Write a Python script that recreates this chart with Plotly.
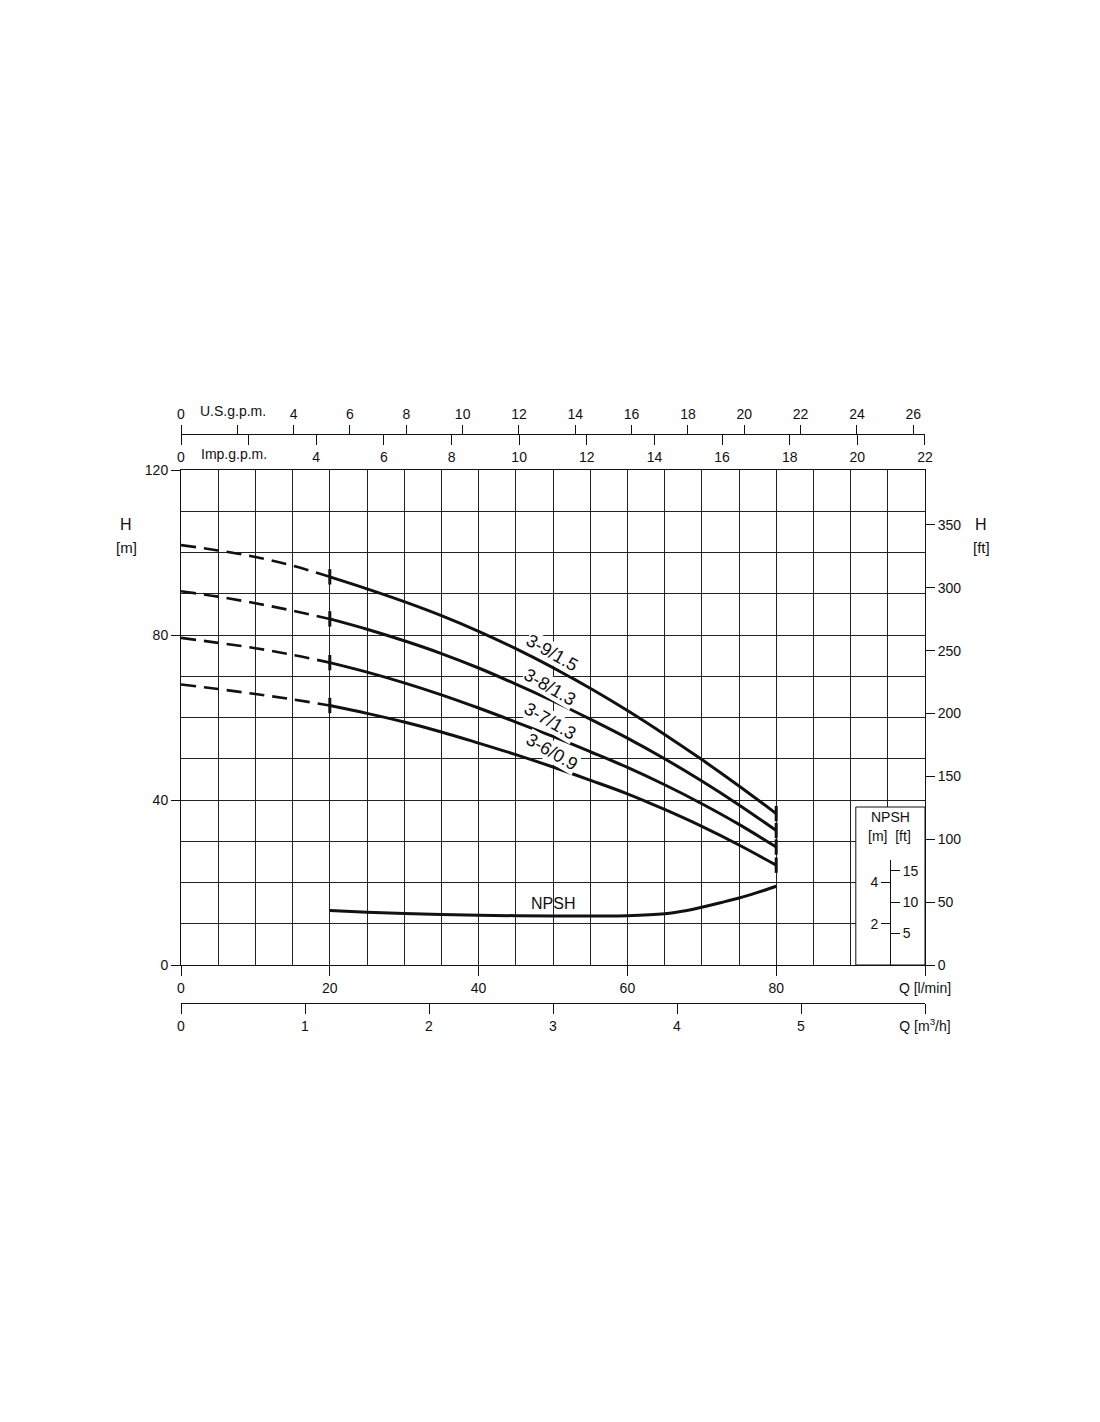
import plotly.graph_objects as go

# ---------------- data ----------------
q_dash = [0, 5, 10, 15, 20]
q_solid = [20, 25, 30, 35, 40, 45, 50, 55, 60, 65, 70, 75, 80]

curve_names = ["3-9/1.5", "3-8/1.3", "3-7/1.3", "3-6/0.9"]
h_dash = {
    "3-9/1.5": [101.8, 100.5, 98.9, 96.8, 94.1],
    "3-8/1.3": [90.6, 89.3, 87.7, 85.9, 83.9],
    "3-7/1.3": [79.3, 78.1, 76.8, 75.2, 73.3],
    "3-6/0.9": [68.0, 66.9, 65.7, 64.4, 62.9],
}
h_solid = {
    "3-9/1.5": [94.1, 91.2, 88.1, 84.7, 80.9, 76.7, 72.1, 67.1, 61.7, 55.9, 49.8, 43.4, 36.7],
    "3-8/1.3": [83.9, 81.4, 78.6, 75.5, 72.0, 68.1, 64.0, 59.6, 55.0, 50.0, 44.6, 38.8, 32.6],
    "3-7/1.3": [73.3, 71.0, 68.4, 65.5, 62.3, 58.9, 55.4, 51.7, 47.9, 43.7, 39.1, 34.1, 28.6],
    "3-6/0.9": [62.9, 61.0, 58.9, 56.5, 53.8, 51.0, 48.0, 44.8, 41.5, 37.7, 33.6, 29.1, 24.2],
}
label_pos = {  # (Q, H) of each curve label
    "3-9/1.5": (49.9, 75.6),
    "3-8/1.3": (49.6, 67.5),
    "3-7/1.3": (49.6, 59.1),
    "3-6/0.9": (49.9, 51.7),
}

q_npsh = [20, 25, 30, 35, 40, 45, 50, 55, 60, 65, 68, 70, 72.5, 75, 77.5, 80]
npsh_m = [2.64, 2.56, 2.50, 2.45, 2.41, 2.39, 2.38, 2.38, 2.39, 2.48, 2.64, 2.80, 3.02, 3.25, 3.52, 3.82]

q_ticks = [0, 20, 40, 60, 80, 100]
q_ticktext = ["0", "20", "40", "60", "80", "Q [l/min]"]
h_ticks = [0, 40, 80, 120]
hft_ticks = [0, 50, 100, 150, 200, 250, 300, 350]
usgpm_ticks = [0] + list(range(4, 27, 2))
impgpm_ticks = [0] + list(range(4, 23, 2))
gpm_unlabeled_tick = [2]
m3h_ticks = [0, 1, 2, 3, 4, 5, 6]
m3h_ticktext = ["0", "1", "2", "3", "4", "5", "Q [m<sup>3</sup>/h]"]
npsh_m_ticks = [2, 4]
npsh_ft_ticks = [5, 10, 15]

# conversions
LPM_PER_USGPM = 3.78541
LPM_PER_IMPGPM = 4.54609
LPM_PER_M3H = 1000 / 60
FT_PER_M = 3.28084

Q_MAX = 100
H_MAX = 120

FONT = "Liberation Sans, Arial, sans-serif"
BLACK = "#111111"
GRID = "#222222"

# ---------------- layout geometry (screen pixels, page has 8px body margin) ----------------
W, H = 1100, 1422
OFF = 8
PL, PR = 181, 925          # plot x extent on screen
TOP_AX, PT, PB, BOT_AX = 434, 470, 965, 1003
paper_h = BOT_AX - TOP_AX
y_dom = [(BOT_AX - PB) / paper_h, (BOT_AX - PT) / paper_h]
npsh_top_px = 860
npsh_dom = [y_dom[0], (BOT_AX - npsh_top_px) / paper_h]
px_per_m = (PB - PT) / H_MAX
npsh_scale = 5.0          # 1 m NPSH = 5 m on the main H scale
npsh_m_max = (PB - npsh_top_px) / (px_per_m * npsh_scale)
npsh_x_pos = (890 - PL) / (PR - PL)
box_q0 = 90.7


def xp(px):
    return (px - PL) / (PR - PL)


fig = go.Figure()

for name in curve_names:
    fig.add_trace(go.Scatter(x=q_dash, y=h_dash[name], mode="lines",
                             line=dict(color=BLACK, width=2.6, dash="15px,8px", shape="spline"),
                             showlegend=False, hoverinfo="skip"))
    fig.add_trace(go.Scatter(x=q_solid, y=h_solid[name], mode="lines",
                             line=dict(color=BLACK, width=3, shape="spline"),
                             showlegend=False, name=name))
    fig.add_trace(go.Scatter(x=[q_solid[0], q_solid[-1]],
                             y=[h_solid[name][0], h_solid[name][-1]],
                             mode="markers",
                             marker=dict(symbol="line-ns-open", size=11, color=BLACK,
                                         line=dict(color=BLACK, width=3)),
                             showlegend=False, hoverinfo="skip"))

fig.add_trace(go.Scatter(x=q_npsh, y=npsh_m, mode="lines", yaxis="y5",
                         line=dict(color=BLACK, width=3, shape="spline"),
                         showlegend=False, name="NPSH"))

# invisible copies so that the unit-converted axes are drawn
ref = curve_names[0]
ghost = dict(mode="lines", line=dict(width=0, color="rgba(0,0,0,0)"),
             showlegend=False, hoverinfo="skip")
fig.add_trace(go.Scatter(x=q_solid, y=[h * FT_PER_M for h in h_solid[ref]], yaxis="y2", **ghost))
fig.add_trace(go.Scatter(x=[q / LPM_PER_USGPM for q in q_solid], y=h_solid[ref], xaxis="x2", **ghost))
fig.add_trace(go.Scatter(x=[q / LPM_PER_IMPGPM for q in q_solid], y=h_solid[ref], xaxis="x3", **ghost))
fig.add_trace(go.Scatter(x=[q / LPM_PER_M3H for q in q_solid], y=h_solid[ref], xaxis="x4", **ghost))
fig.add_trace(go.Scatter(x=q_npsh, y=npsh_m, xaxis="x5", yaxis="y3", **ghost))
fig.add_trace(go.Scatter(x=q_npsh, y=[v * FT_PER_M for v in npsh_m], xaxis="x5", yaxis="y4", **ghost))

axis_common = dict(showline=True, linecolor=BLACK, linewidth=1,
                   tickcolor=BLACK, tickwidth=1, zeroline=False,
                   tickfont=dict(family=FONT, size=14, color=BLACK))

fig.update_layout(
    width=W, height=H,
    margin=dict(l=PL - OFF, r=W - (PR - OFF), t=TOP_AX - OFF, b=H - (BOT_AX - OFF), pad=0,
                autoexpand=False),
    paper_bgcolor="white", plot_bgcolor="rgba(0,0,0,0)",
    font=dict(family=FONT, size=14, color=BLACK),
    xaxis=dict(range=[0, Q_MAX], domain=[0, 1], anchor="y",
               tickvals=q_ticks, ticktext=q_ticktext,
               ticks="outside", ticklen=10, mirror=True,
               showgrid=True, gridcolor=GRID, gridwidth=1,
               minor=dict(dtick=5, showgrid=True, gridcolor=GRID, gridwidth=1, ticks=""),
               **axis_common),
    yaxis=dict(range=[0, H_MAX], domain=y_dom, anchor="x",
               tickvals=h_ticks, ticks="outside", ticklen=9, mirror=True,
               showgrid=True, gridcolor=GRID, gridwidth=1,
               minor=dict(dtick=10, showgrid=True, gridcolor=GRID, gridwidth=1, ticks=""),
               **axis_common),
    yaxis2=dict(overlaying="y", side="right", anchor="x",
                range=[0, H_MAX * FT_PER_M], tickvals=hft_ticks,
                ticks="outside", ticklen=9, showgrid=False, **axis_common),
    xaxis2=dict(overlaying="x", anchor="free", position=1, side="top",
                range=[0, Q_MAX / LPM_PER_USGPM], tickvals=usgpm_ticks,
                ticks="outside", ticklen=9, showgrid=False,
                minor=dict(tickvals=gpm_unlabeled_tick, ticks="outside", ticklen=9,
                           tickcolor=BLACK, tickwidth=1, showgrid=False),
                **axis_common),
    xaxis3=dict(overlaying="x", anchor="free", position=1, side="bottom",
                range=[0, Q_MAX / LPM_PER_IMPGPM + 0.005], tickvals=impgpm_ticks,
                ticks="outside", ticklen=10, showgrid=False,
                minor=dict(tickvals=gpm_unlabeled_tick, ticks="outside", ticklen=10,
                           tickcolor=BLACK, tickwidth=1, showgrid=False),
                **axis_common),
    xaxis4=dict(overlaying="x", anchor="free", position=0, side="bottom",
                range=[0, Q_MAX / LPM_PER_M3H], tickvals=m3h_ticks,
                ticktext=m3h_ticktext,
                ticks="outside", ticklen=10, showgrid=False, **axis_common),
    xaxis5=dict(domain=[xp(856), 1], anchor="y3", range=[box_q0, Q_MAX],
                visible=False, showgrid=False),
    yaxis3=dict(anchor="free", position=npsh_x_pos, domain=npsh_dom, side="left",
                range=[0, npsh_m_max], tickvals=npsh_m_ticks,
                ticks="outside", ticklen=9, showgrid=False, **axis_common),
    yaxis4=dict(anchor="free", position=npsh_x_pos, domain=npsh_dom, side="right",
                overlaying="y3",
                range=[0, npsh_m_max * FT_PER_M], tickvals=npsh_ft_ticks,
                ticks="outside", ticklen=9, showgrid=False, **axis_common),
    yaxis5=dict(overlaying="y", range=[0, H_MAX / npsh_scale], visible=False),
)

# NPSH box
fig.add_shape(type="rect", xref="x", yref="y", x0=box_q0, x1=100, y0=0, y1=38.3,
              fillcolor="white", line=dict(color=BLACK, width=1), layer="between")

ann = []
for name in curve_names:
    qx, hy = label_pos[name]
    ann.append(dict(x=qx, y=hy, xref="x", yref="y", text=name, showarrow=False,
                    textangle=30, font=dict(family=FONT, size=18, color=BLACK),
                    bgcolor="white", borderpad=0))


def txt(x, y, text, size=14, xref="x", yref="y", yshift=0):
    return dict(x=x, y=y, xref=xref, yref=yref, text=text, showarrow=False,
                xanchor="center", yanchor="middle", yshift=yshift,
                font=dict(family=FONT, size=size, color=BLACK))


ann += [
    txt(50, 15.0, "NPSH", 16),
    txt(95.3, 35.9, "NPSH", 14),
    txt(95.2, 31.3, "[m]  [ft]", 14),
    txt(xp(126), 106.9, "H", 16, xref="paper"),
    txt(xp(126), 101.1, "[m]", 15, xref="paper"),
    txt(xp(981), 106.9, "H", 16, xref="paper"),
    txt(xp(981), 101.1, "[ft]", 15, xref="paper"),
    txt(xp(233), 1, "U.S.g.p.m.", 14, xref="paper", yref="paper", yshift=23),
    txt(xp(234), 1, "Imp.g.p.m.", 14, xref="paper", yref="paper", yshift=-20),
]
fig.update_layout(annotations=ann)

fig.write_html("out.html")
